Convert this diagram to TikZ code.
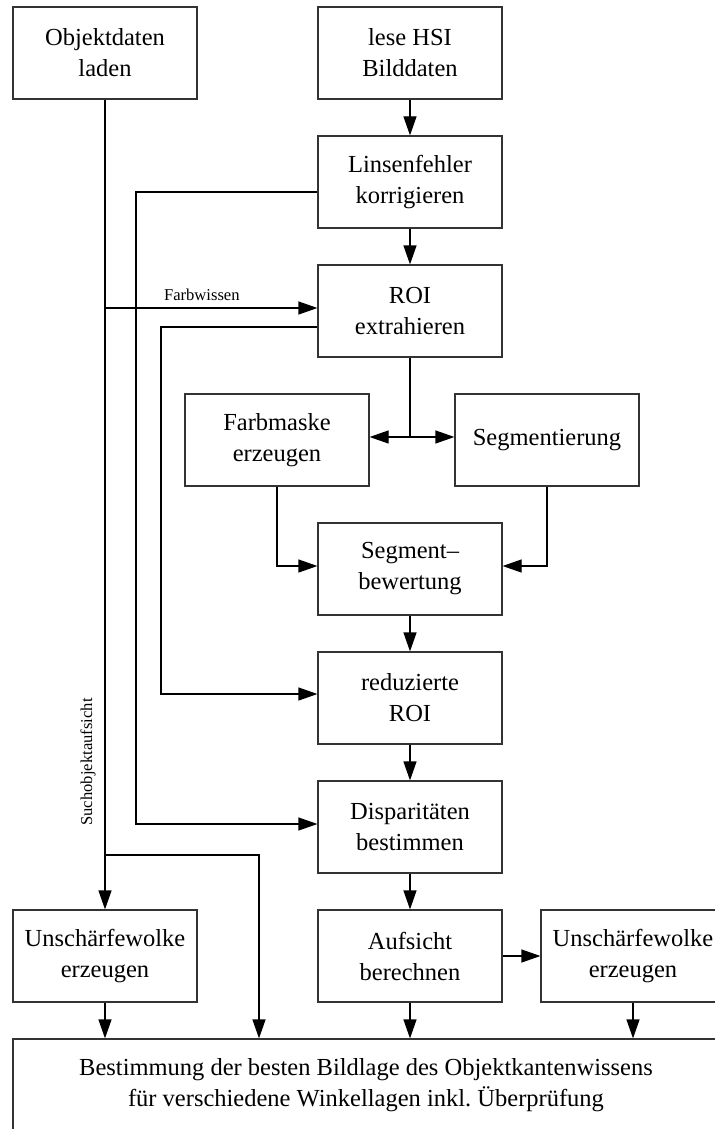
\documentclass[tikz,border=0pt]{standalone}
\usepackage{fontspec}
\setmainfont{Liberation Serif}
\usetikzlibrary{arrows.meta}
\begin{document}
\begin{tikzpicture}[x=0.5pt,y=-0.5pt,
  box/.style={draw=black!80, line width=0.6pt, minimum width=92pt, minimum height=46pt,
    align=center, inner sep=0pt, font=\fontsize{12.25}{15.5}\selectfont},
  flow/.style={draw=black, line width=0.6pt, -{Triangle[length=9.5pt,width=6.5pt]}},
  plain/.style={draw=black, line width=0.6pt},
  small/.style={font=\fontsize{8.3}{10}\selectfont}]
\clip (0,0) rectangle (715,1129);

% process boxes
\node[box] (obj)  at (105,53)  {Objektdaten\\laden};
\node[box] (hsi)  at (410,53)  {lese HSI\\Bilddaten};
\node[box] (lin)  at (410,182) {Linsenfehler\\korrigieren};
\node[box] (roi)  at (410,311) {ROI\\extrahieren};
\node[box] (farb) at (277,440) {Farbmaske\\erzeugen};
\node[box] (seg)  at (547,440) {Segmentierung};
\node[box] (bew)  at (410,569) {Segment--\\bewertung};
\node[box] (red)  at (410,698) {reduzierte\\ROI};
\node[box] (disp) at (410,827) {Disparitäten\\bestimmen};
\node[box] (unL)  at (105,956) {Unschärfewolke\\erzeugen};
\node[box] (auf)  at (410,956) {Aufsicht\\berechnen};
\node[box] (unR)  at (633,956) {Unschärfewolke\\erzeugen};
\node[box, minimum width=353pt] (best) at (366,1085)
  {Bestimmung der besten Bildlage des Objektkantenwissens\\für verschiedene Winkellagen inkl.\ Überprüfung};

% main chain
\draw[flow] (hsi) -- (lin);
\draw[flow] (lin) -- (roi);
\draw[flow] (bew) -- (red);
\draw[flow] (red) -- (disp);
\draw[flow] (disp) -- (auf);
\draw[flow] (auf) -- (unR);

% object data branch
\coordinate (fw) at (105,308);
\coordinate (sa) at (105,855);
\coordinate (sb) at (259,855);
\draw[flow] (obj.south) -- (unL.north);
\draw[flow] (fw) -- (fw -| roi.west) node[pos=0.456, above, small] (fwl) {Farbwissen};
\draw[flow] (sa) -- (sb) -- (sb |- best.north);
\node[small, rotate=90] (sal) at (88,762) {Suchobjektaufsicht};

% feedback lines
\coordinate (c1) at (136,824);
\coordinate (c2) at (161,694);
\draw[flow] ([yshift=-5pt]lin.west) -| (c1) -- (c1 -| disp.west);
\draw[flow] ([yshift=-8pt]roi.west) -| (c2) -- (c2 -| red.west);

% segmentation split
\coordinate (sp) at (410,437);
\draw[plain] (roi.south) -- (sp);
\draw[flow] (sp) -- (sp -| farb.east);
\draw[flow] (sp) -- (sp -| seg.west);
\draw[flow] (farb.south) |- ([yshift=1.5pt]bew.west);
\draw[flow] (seg.south) |- ([yshift=1.5pt]bew.east);

% into the final step
\draw[flow] (unL) -- (unL |- best.north);
\draw[flow] (auf) -- (auf |- best.north);
\draw[flow] (unR) -- (unR |- best.north);
\end{tikzpicture}
\end{document}
